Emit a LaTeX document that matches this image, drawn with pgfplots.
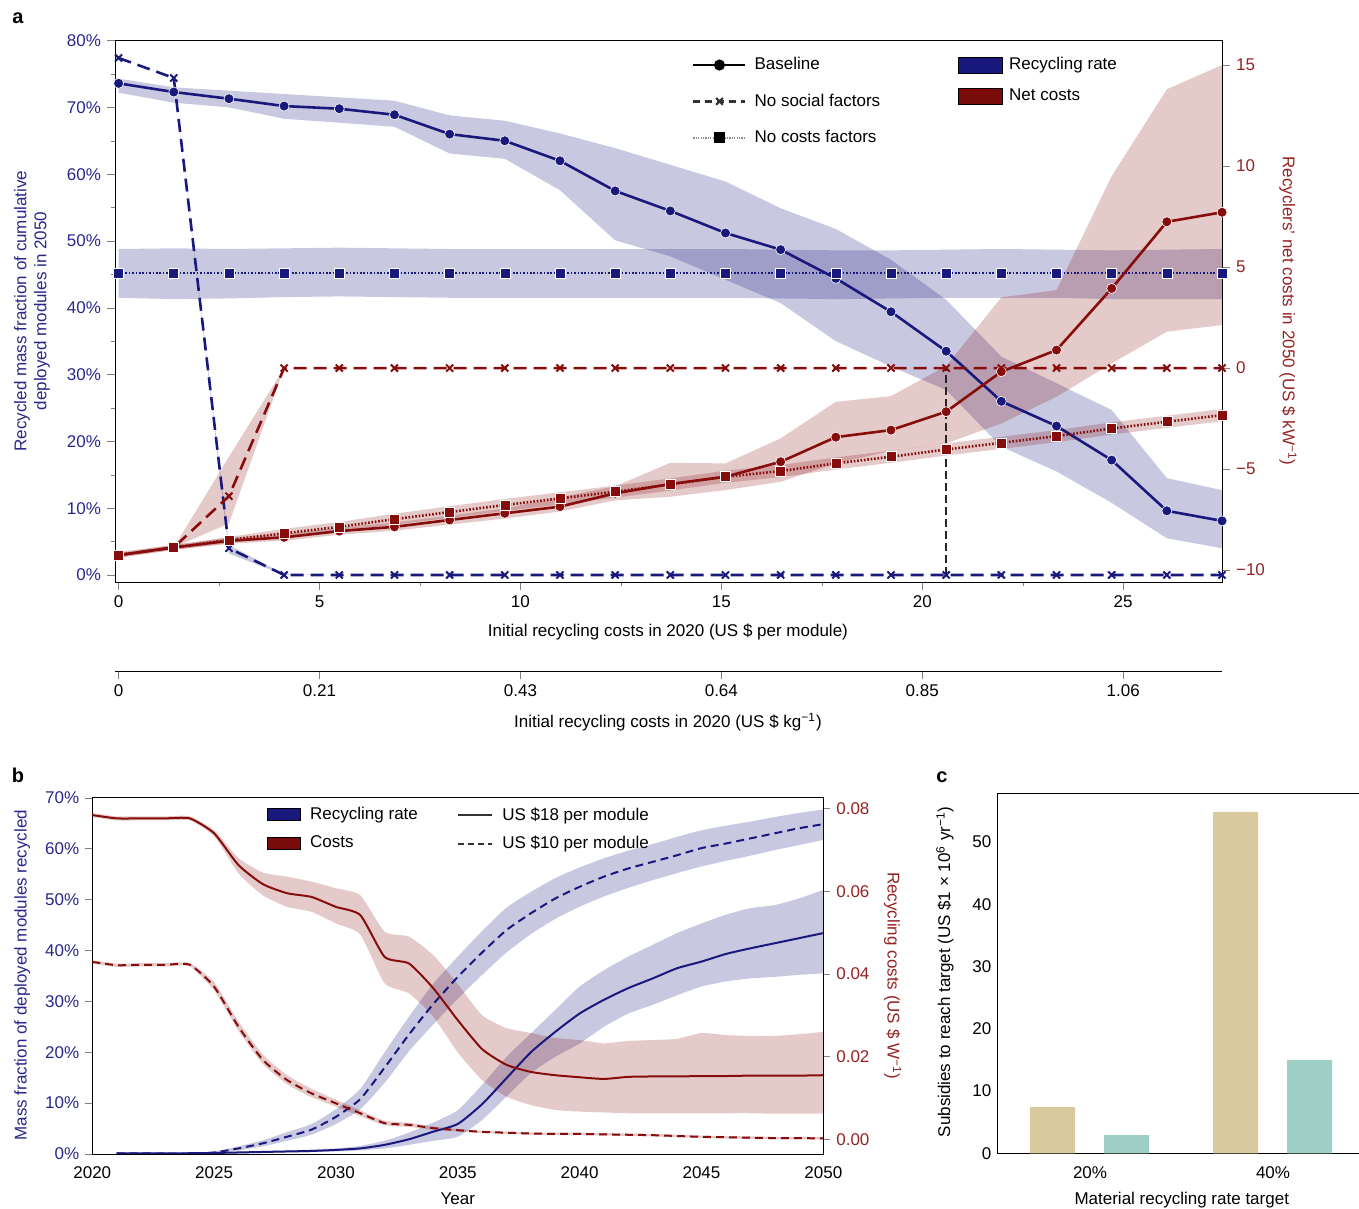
\documentclass[border=0pt]{standalone}
\usepackage{fontspec}
\setmainfont{Liberation Sans}
\usepackage{pgfplots}
\pgfplotsset{compat=1.18}
\usepgfplotslibrary{fillbetween}
\usepackage{pgfplotstable}

\definecolor{navyc}{RGB}{25,25,125}
\definecolor{redc}{RGB}{135,12,12}
\definecolor{tblue}{RGB}{40,40,140}
\definecolor{tred}{RGB}{150,35,35}
\definecolor{tanc}{RGB}{217,202,157}
\definecolor{tealc}{RGB}{160,208,197}

% ---------------- panel a data ----------------
\pgfplotstableread{
x y lo hi
0 73.6 72.2 74.3
1.373 72.3 70.7 73.0
2.746 71.3 70.0 72.5
4.119 70.2 68.3 72.0
5.492 69.8 67.7 71.5
6.865 68.9 67.1 71.0
8.238 66.0 63.1 68.8
9.611 65.0 62.3 68.0
10.984 62.0 57.6 66.1
12.357 57.5 50.1 63.9
13.730 54.5 47.7 61.4
15.103 51.2 44.2 58.9
16.476 48.7 40.7 54.9
17.849 44.4 35.0 51.8
19.222 39.4 31.2 47.2
20.595 33.5 27.7 41.2
21.968 26.0 19.2 32.7
23.341 22.3 15.5 28.7
24.714 17.2 10.8 24.7
26.087 9.6 5.5 14.5
27.46 8.1 4.0 12.7
}\aBlueBase

\pgfplotstableread{
x y lo hi
0 45.2 41.5 48.8
1.373 45.2 41.3 48.9
2.746 45.2 41.4 48.8
4.119 45.2 41.6 48.9
5.492 45.2 41.7 49.0
6.865 45.2 41.6 48.9
8.238 45.2 41.5 48.8
9.611 45.2 41.5 48.8
10.984 45.2 41.5 48.8
12.357 45.2 41.5 48.8
13.730 45.2 41.5 48.8
15.103 45.2 41.5 48.8
16.476 45.2 41.4 48.7
17.849 45.2 41.3 48.6
19.222 45.2 41.4 48.6
20.595 45.2 41.5 48.7
21.968 45.2 41.5 48.8
23.341 45.2 41.5 48.7
24.714 45.2 41.3 48.6
26.087 45.2 41.3 48.7
27.46 45.2 41.3 48.8
}\aBlueNoCost

\pgfplotstableread{
x y lo hi
0 77.4 77.4 77.4
1.373 74.4 74.4 74.4
2.746 4.0 3.2 4.5
4.119 0 0 0.1
5.492 0 0 0
6.865 0 0 0
8.238 0 0 0
9.611 0 0 0
10.984 0 0 0
12.357 0 0 0
13.730 0 0 0
15.103 0 0 0
16.476 0 0 0
17.849 0 0 0
19.222 0 0 0
20.595 0 0 0
21.968 0 0 0
23.341 0 0 0
24.714 0 0 0
26.087 0 0 0
27.46 0 0 0
}\aBlueNoSoc

\pgfplotstableread{
x y lo hi
0 -9.26 -9.40 -9.10
1.373 -8.88 -9.00 -8.75
2.746 -8.55 -8.70 -8.40
4.119 -8.38 -8.55 -8.20
5.492 -8.07 -8.25 -7.90
6.865 -7.86 -8.05 -7.65
8.238 -7.52 -7.75 -7.30
9.611 -7.19 -7.45 -6.95
10.984 -6.86 -7.10 -6.40
12.357 -6.20 -6.55 -5.85
13.730 -5.74 -6.37 -4.69
15.103 -5.38 -6.04 -4.72
16.476 -4.64 -5.63 -3.48
17.849 -3.42 -4.72 -1.67
19.222 -3.07 -4.10 -1.39
20.595 -2.16 -3.73 0.10
21.968 -0.18 -2.74 3.50
23.341 0.89 -1.42 3.86
24.714 3.94 0.23 9.50
26.087 7.24 1.80 13.80
27.46 7.71 2.13 15.00
}\aRedBase

\pgfplotstableread{
x y lo hi
0 -9.26 -9.36 -9.16
1.373 -8.88 -9.00 -8.76
2.746 -8.51 -8.66 -8.36
4.119 -8.18 -8.40 -7.96
5.492 -7.86 -8.10 -7.62
6.865 -7.48 -7.75 -7.21
8.238 -7.13 -7.42 -6.84
9.611 -6.78 -7.08 -6.48
10.984 -6.45 -6.75 -6.15
12.357 -6.12 -6.42 -5.82
13.730 -5.76 -6.06 -5.46
15.103 -5.38 -5.68 -5.08
16.476 -5.10 -5.40 -4.80
17.849 -4.72 -5.02 -4.42
19.222 -4.39 -4.69 -4.09
20.595 -4.03 -4.33 -3.73
21.968 -3.70 -4.00 -3.40
23.341 -3.37 -3.67 -3.07
24.714 -2.99 -3.29 -2.69
26.087 -2.66 -2.96 -2.36
27.46 -2.33 -2.63 -2.03
}\aRedNoCost

\pgfplotstableread{
x y lo hi
0 -9.26 -9.26 -9.26
1.373 -8.88 -8.88 -8.88
2.746 -6.34 -7.69 -4.39
4.119 0 0 0
5.492 0 0 0
6.865 0 0 0
8.238 0 0 0
9.611 0 0 0
10.984 0 0 0
12.357 0 0 0
13.730 0 0 0
15.103 0 0 0
16.476 0 0 0
17.849 0 0 0
19.222 0 0 0
20.595 0 0 0
21.968 0 0 0
23.341 0 0 0
24.714 0 0 0
26.087 0 0 0
27.46 0 0 0
}\aRedNoSoc

% ---------------- panel b data ----------------
\pgfplotstableread{
x y lo hi
2021 0.1 0.0 0.2
2022 0.1 0.0 0.2
2023 0.1 0.0 0.2
2024 0.15 0.05 0.25
2025 0.2 0.1 0.3
2026 0.3 0.15 0.45
2027 0.4 0.2 0.6
2028 0.5 0.3 0.7
2029 0.6 0.35 0.85
2030 0.8 0.5 1.1
2031 1.1 0.7 1.6
2032 1.8 1.1 2.6
2033 2.9 1.8 4.2
2034 4.4 2.6 6.2
2035 5.9 3.4 8.6
2036 9.8 6.7 13.6
2037 14.9 11.3 19.1
2038 20.0 15.9 23.7
2039 24.0 19.1 28.3
2040 27.6 21.7 32.9
2041 30.3 25.0 36.1
2042 32.6 27.6 38.8
2043 34.5 29.3 41.1
2044 36.5 31.2 43.4
2045 37.8 32.9 45.3
2046 39.3 33.9 47.0
2047 40.4 34.5 48.3
2048 41.4 34.8 48.9
2049 42.4 35.2 50.2
2050 43.4 35.5 51.9
}\bBlueS

\pgfplotstableread{
x y lo hi
2021 0.1 0.0 0.2
2022 0.1 0.0 0.2
2023 0.1 0.0 0.2
2024 0.1 0.0 0.2
2025 0.3 0.1 0.5
2026 1.1 0.7 1.5
2027 2.1 1.5 2.7
2028 3.4 2.6 4.3
2029 4.8 3.8 5.9
2030 7.3 5.9 8.8
2031 10.8 8.8 12.8
2032 17.0 14.0 20.0
2033 23.5 20.2 27.0
2034 29.5 25.5 33.5
2035 34.8 30.5 38.8
2036 39.6 35.2 43.8
2037 44.0 39.6 48.4
2038 47.3 43.2 51.5
2039 50.2 46.2 54.2
2040 52.5 48.6 56.3
2041 54.5 50.6 58.1
2042 56.1 52.3 59.6
2043 57.4 53.8 60.9
2044 58.7 55.2 62.3
2045 60.1 56.5 63.6
2046 61.0 57.6 64.5
2047 62.0 58.6 65.3
2048 63.0 59.7 66.2
2049 64.0 60.7 67.0
2050 64.8 61.7 67.7
}\bBlueD

\pgfplotstableread{
x y lo hi
2020 0.0784 0.0779 0.0789
2021 0.0776 0.0771 0.0781
2022 0.0776 0.0771 0.0781
2023 0.0776 0.0771 0.0781
2024 0.0776 0.0771 0.0781
2025 0.0740 0.0733 0.0747
2026 0.0663 0.0643 0.0680
2027 0.0617 0.0590 0.0645
2028 0.0595 0.0562 0.0635
2029 0.0586 0.0550 0.0623
2030 0.0562 0.0522 0.0607
2031 0.0542 0.0495 0.0590
2032 0.0441 0.0377 0.0502
2033 0.0425 0.0353 0.0490
2034 0.0365 0.0296 0.0445
2035 0.0288 0.0210 0.0375
2036 0.0218 0.0143 0.0300
2037 0.0180 0.0103 0.0269
2038 0.0163 0.0083 0.0257
2039 0.0155 0.0071 0.0245
2040 0.0150 0.0067 0.0240
2041 0.0146 0.0065 0.0232
2042 0.0151 0.0063 0.0238
2043 0.0152 0.0063 0.0240
2044 0.0152 0.0063 0.0243
2045 0.0153 0.0063 0.0257
2046 0.0153 0.0063 0.0252
2047 0.0154 0.0063 0.0250
2048 0.0154 0.0062 0.0250
2049 0.0154 0.0062 0.0254
2050 0.0155 0.0062 0.0260
}\bRedS

\pgfplotstableread{
x y lo hi
2020 0.0429 0.0425 0.0433
2021 0.0421 0.0417 0.0425
2022 0.0422 0.0418 0.0426
2023 0.0422 0.0418 0.0426
2024 0.0422 0.0418 0.0426
2025 0.0369 0.0360 0.0380
2026 0.0272 0.0262 0.0285
2027 0.0192 0.0182 0.0205
2028 0.0143 0.0133 0.0155
2029 0.0111 0.0102 0.0122
2030 0.0087 0.0079 0.0096
2031 0.0063 0.0056 0.0070
2032 0.0039 0.0034 0.0045
2033 0.0035 0.0030 0.0040
2034 0.0027 0.0023 0.0031
2035 0.0022 0.0019 0.0025
2036 0.0018 0.0015 0.0021
2037 0.0016 0.0013 0.0019
2038 0.0014 0.0011 0.0017
2039 0.0013 0.0010 0.0016
2040 0.0013 0.0010 0.0016
2041 0.0012 0.0009 0.0015
2042 0.0011 0.0008 0.0014
2043 0.0010 0.0007 0.0013
2044 0.0008 0.0005 0.0011
2045 0.0006 0.0003 0.0009
2046 0.0005 0.0002 0.0008
2047 0.0004 0.0001 0.0007
2048 0.0003 0.0000 0.0006
2049 0.0003 0.0000 0.0006
2050 0.0002 0.0000 0.0005
}\bRedD

\pgfplotsset{
  every axis/.append style={
    tick label style={font=\fontsize{8.5}{10}\selectfont},
    label style={font=\fontsize{8.5}{10}\selectfont},
    legend style={font=\fontsize{8.5}{10}\selectfont},
    /pgf/number format/assume math mode=true,
  },
  panelA/.style={at={(57.5pt,313.5pt)}, anchor=south west, scale only axis,
    width=553.5pt, height=271pt, xmin=-0.09, xmax=27.46},
  panelB/.style={at={(46.15pt,27.5pt)}, anchor=south west, scale only axis,
    width=365.5pt, height=178.15pt, xmin=2020, xmax=2050},
  bandB/.style={fill=navyc, fill opacity=0.24, draw=none, forget plot},
  bandR/.style={fill=redc, fill opacity=0.22, draw=none, forget plot},
  sm/.style={smooth, tension=0.35},
}

\begin{document}
\fontsize{8.5}{10}\selectfont
\begin{tikzpicture}

% ================= PANEL a : left (recycling rate) =================
\begin{axis}[panelA,
  ymin=-1.05, ymax=80.09,
  xtick pos=bottom, ytick pos=left, tick align=outside,
  major tick length=4pt, minor tick length=2.2pt,
  xtick={0,5,10,15,20,25}, xticklabels={0,5,10,15,20,25},
  minor xtick={2.5,7.5,12.5,17.5,22.5},
  ytick={0,10,20,30,40,50,60,70,80},
  yticklabels={0\%,10\%,20\%,30\%,40\%,50\%,60\%,70\%,80\%},
  minor ytick={5,15,25,35,45,55,65,75},
  yticklabel style={text=tblue},
  xlabel={Initial recycling costs in 2020 (US \$ per module)},
  xlabel style={at={(axis description cs:0.4995,-0.092)}, anchor=center},
  ylabel={Recycled mass fraction of cumulative\\deployed modules in 2050},
  ylabel style={at={(axis description cs:-0.075,0.5)}, anchor=center, align=center, text=tblue},
]
\addplot[name path=a1u, draw=none, forget plot] table[x=x,y=hi]{\aBlueBase};
\addplot[name path=a1l, draw=none, forget plot] table[x=x,y=lo]{\aBlueBase};
\addplot[bandB] fill between[of=a1u and a1l];
\addplot[name path=a2u, draw=none, forget plot] table[x=x,y=hi]{\aBlueNoCost};
\addplot[name path=a2l, draw=none, forget plot] table[x=x,y=lo]{\aBlueNoCost};
\addplot[bandB] fill between[of=a2u and a2l];
\addplot[name path=a3u, draw=none, forget plot] table[x=x,y=hi]{\aBlueNoSoc};
\addplot[name path=a3l, draw=none, forget plot] table[x=x,y=lo]{\aBlueNoSoc};
\addplot[bandB] fill between[of=a3u and a3l];

\addplot[navyc, line width=1.3pt, mark=*, mark size=2.5pt,
  mark options={solid, fill=navyc, draw=white, line width=0.3pt}] table[x=x,y=y]{\aBlueBase};
\addplot[navyc, line width=1.3pt, dash pattern=on 0.8pt off 0.9pt, mark=square*, mark size=2.5pt,
  mark options={solid, fill=navyc, draw=white, line width=0.3pt}] table[x=x,y=y]{\aBlueNoCost};
\addplot[navyc, line width=1.3pt, dash pattern=on 6.5pt off 3.5pt, mark=x, mark size=2.5pt,
  mark options={solid, line width=1pt}] table[x=x,y=y]{\aBlueNoSoc};
\addplot[black!85, line width=1.2pt, dash pattern=on 4pt off 2pt] coordinates {(20.595,0) (20.595,31.0)};
\end{axis}

% ================= PANEL a : right (net costs) =================
\begin{axis}[panelA,
  ymin=-10.59, ymax=16.24,
  axis x line=none, axis y line*=right, tick align=outside,
  major tick length=4pt,
  ytick={-10,-5,0,5,10,15}, yticklabels={−10,−5,0,5,10,15},
  yticklabel style={text=tred},
  ylabel={Recyclers’ net costs in 2050 (US \$ kW\textsuperscript{−1})},
  ylabel style={at={(axis description cs:1.0596,0.5)}, anchor=center, rotate=180, text=tred},
]
\addplot[name path=r1u, draw=none, forget plot] table[x=x,y=hi]{\aRedBase};
\addplot[name path=r1l, draw=none, forget plot] table[x=x,y=lo]{\aRedBase};
\addplot[bandR] fill between[of=r1u and r1l];
\addplot[name path=r2u, draw=none, forget plot] table[x=x,y=hi]{\aRedNoCost};
\addplot[name path=r2l, draw=none, forget plot] table[x=x,y=lo]{\aRedNoCost};
\addplot[bandR] fill between[of=r2u and r2l];
\addplot[name path=r3u, draw=none, forget plot] table[x=x,y=hi]{\aRedNoSoc};
\addplot[name path=r3l, draw=none, forget plot] table[x=x,y=lo]{\aRedNoSoc};
\addplot[bandR] fill between[of=r3u and r3l];

\addplot[redc, line width=1.3pt, mark=*, mark size=2.5pt,
  mark options={solid, fill=redc, draw=white, line width=0.3pt}] table[x=x,y=y]{\aRedBase};
\addplot[redc, line width=1.3pt, dash pattern=on 0.8pt off 0.9pt, mark=square*, mark size=2.5pt,
  mark options={solid, fill=redc, draw=white, line width=0.3pt}] table[x=x,y=y]{\aRedNoCost};
\addplot[redc, line width=1.3pt, dash pattern=on 6.5pt off 3.5pt, mark=x, mark size=2.5pt,
  mark options={solid, line width=1pt}] table[x=x,y=y]{\aRedNoSoc};
\end{axis}

% ================= PANEL a : legends =================
\begin{axis}[panelA, hide axis, ymin=0, ymax=1,
  legend style={at={(0.5212,0.9756)}, anchor=north west, draw=none, fill=none,
    inner sep=0pt, row sep=6.75pt, /tikz/every odd column/.append style={column sep=2pt}},
  legend cell align=left,
  legend image code/.code={\draw[mark repeat=2,mark phase=2,#1] plot coordinates {(0pt,0pt) (13pt,0pt) (26pt,0pt)};}]
\addplot[draw=none, forget plot] coordinates {(1,0.5)};
\addlegendimage{black, line width=1.1pt, mark=*, mark size=2.2pt, mark options={solid}}
\addlegendentry{Baseline}
\addlegendimage{black!80, line width=1.1pt, dash pattern=on 3.5pt off 2.5pt, mark=x, mark size=2.4pt, mark options={solid}}
\addlegendentry{No social factors}
\addlegendimage{black!45, line width=1.1pt, dash pattern=on 0.6pt off 0.6pt, mark=square*, mark size=2.2pt, mark options={solid, black}}
\addlegendentry{No costs factors}
\end{axis}

\begin{axis}[panelA, hide axis, ymin=0, ymax=1,
  legend style={at={(0.7615,0.9756)}, anchor=north west, draw=none, fill=none,
    inner sep=0pt, row sep=4.2pt, /tikz/every odd column/.append style={column sep=1pt}},
  legend cell align=left,
  legend image code/.code={\fill[#1] (0pt,-4pt) rectangle (22pt,4pt);}]
\addplot[draw=none, forget plot] coordinates {(1,0.5)};
\addlegendimage{fill=navyc}
\addlegendentry{Recycling rate}
\addlegendimage{fill=redc!90!black}
\addlegendentry{Net costs}
\end{axis}

% ================= PANEL a : secondary x axis (US$ per kg) =================
\begin{axis}[at={(57.5pt,269pt)}, anchor=south west, scale only axis,
  width=553.5pt, height=10pt, xmin=-0.09, xmax=27.46, ymin=0, ymax=1,
  axis x line*=bottom, axis y line=none, tick align=outside, major tick length=4pt,
  xtick={0,5,10,15,20,25}, xticklabels={0,0.21,0.43,0.64,0.85,1.06},
  xlabel={Initial recycling costs in 2020 (US \$ kg\textsuperscript{−1})},
  xlabel style={at={(axis description cs:0.4995,0)}, anchor=center, yshift=-25.5pt},
]
\addplot[draw=none, forget plot] coordinates {(1,0.5)};
\end{axis}

% ================= PANEL b : left =================
\begin{axis}[panelB,
  ymin=0, ymax=70,
  xtick pos=bottom, ytick pos=left, tick align=outside,
  major tick length=3.5pt,
  xtick={2020,2025,2030,2035,2040,2045,2050},
  xticklabels={2020,2025,2030,2035,2040,2045,2050},
  xtick style={draw=none},
  ytick={0,10,20,30,40,50,60,70},
  yticklabels={0\%,10\%,20\%,30\%,40\%,50\%,60\%,70\%},
  yticklabel style={text=tblue},
  xlabel={Year},
  xlabel style={at={(axis description cs:0.5,-0.126)}, anchor=center},
  ylabel={Mass fraction of deployed modules recycled},
  ylabel style={at={(axis description cs:-0.096,0.502)}, anchor=center, text=tblue},
]
\addplot[name path=b1u, draw=none, forget plot, sm] table[x=x,y=hi]{\bBlueS};
\addplot[name path=b1l, draw=none, forget plot, sm] table[x=x,y=lo]{\bBlueS};
\addplot[bandB] fill between[of=b1u and b1l];
\addplot[name path=b2u, draw=none, forget plot, sm] table[x=x,y=hi]{\bBlueD};
\addplot[name path=b2l, draw=none, forget plot, sm] table[x=x,y=lo]{\bBlueD};
\addplot[bandB] fill between[of=b2u and b2l];
\addplot[navyc, line width=1pt, sm] table[x=x,y=y]{\bBlueS};
\addplot[navyc, line width=1pt, sm, dash pattern=on 4pt off 2.5pt] table[x=x,y=y]{\bBlueD};
\end{axis}

% ================= PANEL b : right =================
\begin{axis}[panelB,
  ymin=-0.00355, ymax=0.0826,
  axis x line=none, axis y line*=right, tick align=outside,
  major tick length=3.5pt, scaled y ticks=false,
  ytick={0,0.02,0.04,0.06,0.08}, yticklabels={0.00,0.02,0.04,0.06,0.08},
  yticklabel style={text=tred},
  ylabel={Recycling costs (US \$ W\textsuperscript{−1})},
  ylabel style={at={(axis description cs:1.095,0.5)}, anchor=center, rotate=180, text=tred},
]
\addplot[name path=b3u, draw=none, forget plot, sm] table[x=x,y=hi]{\bRedS};
\addplot[name path=b3l, draw=none, forget plot, sm] table[x=x,y=lo]{\bRedS};
\addplot[bandR] fill between[of=b3u and b3l];
\addplot[name path=b4u, draw=none, forget plot, sm] table[x=x,y=hi]{\bRedD};
\addplot[name path=b4l, draw=none, forget plot, sm] table[x=x,y=lo]{\bRedD};
\addplot[bandR] fill between[of=b4u and b4l];
\addplot[redc, line width=1pt, sm] table[x=x,y=y]{\bRedS};
\addplot[redc, line width=1pt, sm, dash pattern=on 4pt off 2.5pt] table[x=x,y=y]{\bRedD};
\end{axis}

% ================= PANEL b : legends =================
\begin{axis}[panelB, hide axis, ymin=0, ymax=1,
  legend style={at={(0.239,0.985)}, anchor=north west, draw=none, fill=none,
    inner sep=0pt, row sep=2.8pt, /tikz/every odd column/.append style={column sep=2.5pt}},
  legend cell align=left,
  legend image code/.code={\fill[#1] (0pt,-3pt) rectangle (16.5pt,3pt);}]
\addplot[draw=none, forget plot] coordinates {(2030,0.5)};
\addlegendimage{fill=navyc}
\addlegendentry{Recycling rate}
\addlegendimage{fill=redc!90!black}
\addlegendentry{Costs}
\end{axis}

\begin{axis}[panelB, hide axis, ymin=0, ymax=1,
  legend style={at={(0.4988,0.985)}, anchor=north west, draw=none, fill=none,
    inner sep=0pt, row sep=2.8pt, /tikz/every odd column/.append style={column sep=2.5pt}},
  legend cell align=left,
  legend image code/.code={\draw[#1] (0pt,0pt) -- (17pt,0pt);}]
\addplot[draw=none, forget plot] coordinates {(2030,0.5)};
\addlegendimage{black!80, line width=1pt}
\addlegendentry{US \$18 per module}
\addlegendimage{black!80, line width=1pt, dash pattern=on 3pt off 2pt}
\addlegendentry{US \$10 per module}
\end{axis}

% ================= PANEL c =================
\begin{axis}[at={(498.65pt,27.85pt)}, anchor=south west, scale only axis,
  width=180.85pt, height=180pt,
  xmin=0.4934, xmax=2.47, ymin=0, ymax=57.8,
  xtick={1,2}, xticklabels={20\%,40\%},
  xticklabel style={yshift=-3.5pt},
  ytick={0,10,20,30,40,50}, yticklabels={0,10,20,30,40,50},
  major tick length=0pt,
  xlabel={Material recycling rate target},
  xlabel style={at={(axis description cs:0.51,-0.129)}, anchor=center},
  ylabel={Subsidies to reach target (US \$1 × 10\textsuperscript{6} yr\textsuperscript{−1})},
  ylabel style={at={(axis description cs:-0.1446,0.504)}, anchor=center},
]
\addplot[ybar, bar width=22.5pt, bar shift=0pt, fill=tanc, draw=none] coordinates {(0.795,7.4) (1.795,54.8)};
\addplot[ybar, bar width=22.5pt, bar shift=0pt, fill=tealc, draw=none] coordinates {(1.2,2.9) (2.2,15.0)};
\end{axis}

% ================= panel letters =================
\node[font=\bfseries\fontsize{10}{12}\selectfont] at (9pt,595.5pt) {a};
\node[font=\bfseries\fontsize{10}{12}\selectfont] at (9pt,217pt) {b};
\node[font=\bfseries\fontsize{10}{12}\selectfont] at (471pt,216pt) {c};

\pgfresetboundingbox
\useasboundingbox (0,0) rectangle (679.5pt,604.5pt);
\end{tikzpicture}
\end{document}
